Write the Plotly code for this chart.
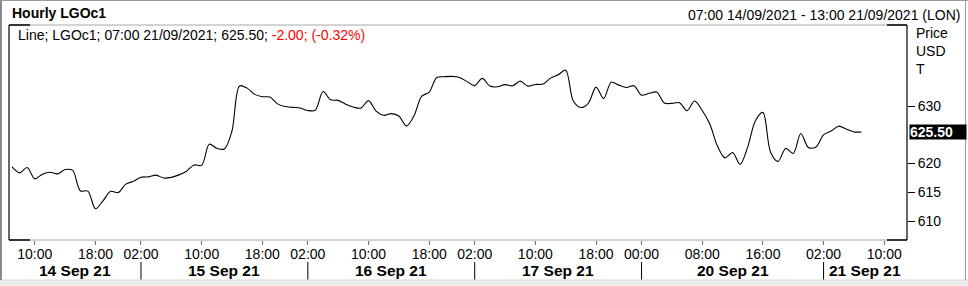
import plotly.graph_objects as go

# ---------------- data ----------------
prices = [
    619.42, 618.38, 619.30, 617.34, 618.15, 618.48, 618.20, 618.95, 618.81, 615.26,
    615.20, 612.13, 613.52, 615.17, 614.94, 616.42, 616.90, 617.63, 617.68, 617.98,
    617.48, 617.60, 618.03, 618.66, 619.75, 619.68, 623.36, 622.66, 622.54, 625.66,
    633.50, 633.12, 632.03, 631.63, 631.56, 630.38, 629.91, 629.77, 629.65, 629.22,
    629.30, 632.52, 631.09, 630.99, 630.31, 629.83, 629.65, 630.95, 629.13, 628.39,
    628.68, 628.27, 626.53, 628.33, 631.68, 632.43, 634.96, 635.10, 635.17, 634.98,
    634.25, 633.56, 634.81, 633.47, 633.35, 633.73, 633.52, 634.34, 633.47, 633.76,
    633.82, 634.86, 635.43, 636.24, 630.87, 629.74, 630.52, 633.30, 631.30, 634.16,
    633.64, 633.24, 633.54, 631.90, 632.22, 632.43, 630.52, 630.47, 630.57, 629.20,
    630.87, 629.22, 626.88, 623.06, 620.98, 621.93, 619.85, 622.89, 627.40, 628.90,
    622.02, 620.37, 622.63, 621.76, 625.23, 622.80, 622.89, 624.97, 625.66, 626.50,
    626.00, 625.49, 625.50,
]
bar_index = list(range(len(prices)))          # hourly bars (trading hours only)

hour_tick_index = [3, 11, 17, 25, 33, 39, 47, 55, 61, 69, 77, 83, 91, 99, 107, 115]
hour_tick_labels = ["10:00", "18:00", "02:00", "10:00", "18:00", "02:00", "10:00", "18:00",
                    "02:00", "10:00", "18:00", "00:00", "08:00", "16:00", "02:00", "10:00"]

day_separator_index = [17, 39, 61, 83, 107]
day_labels = ["14 Sep 21", "15 Sep 21", "16 Sep 21", "17 Sep 21", "20 Sep 21", "21 Sep 21"]

price_ticks = [610, 615, 620, 630]
last_price = 625.50

title_text = "Hourly LGOc1"
range_text = "07:00 14/09/2021 - 13:00 21/09/2021 (LON)"
legend_black = "Line; LGOc1; 07:00 21/09/2021; 625.50; "
legend_red = "-2.00; (-0.32%)"
unit_labels = ["Price", "USD", "T"]

# ---------------- layout geometry ----------------
W, H = 968, 286
L, R, T, B = 9, 907, 25, 240          # plot area in pixels
X_RANGE = [-0.4, 118]
Y_RANGE = [606.7, 644.1]
FONT = "Liberation Sans, Arial, sans-serif"


def px_x(p):
    return (p - L) / (R - L)


def px_y(p):
    return (B - p) / (B - T)


fig = go.Figure()
fig.add_trace(go.Scatter(
    x=bar_index, y=prices, mode="lines",
    line=dict(color="black", width=1.1, shape="spline", smoothing=0.9),
    hoverinfo="skip", showlegend=False,
))

shapes = []
# frame: gray horizontals, black verticals, black corner segments
for yy in (T, B):
    shapes.append(dict(type="line", xref="paper", yref="paper", x0=0, x1=1,
                       y0=px_y(yy), y1=px_y(yy), line=dict(color="#a8a8a8", width=1)))
    shapes.append(dict(type="line", xref="paper", yref="paper", x0=0, x1=px_x(L + 21),
                       y0=px_y(yy), y1=px_y(yy), line=dict(color="black", width=1.5)))
    shapes.append(dict(type="line", xref="paper", yref="paper", x0=px_x(R - 20), x1=1,
                       y0=px_y(yy), y1=px_y(yy), line=dict(color="black", width=1.5)))
for xx in (L, R):
    shapes.append(dict(type="line", xref="paper", yref="paper", x0=px_x(xx), x1=px_x(xx),
                       y0=0, y1=1, line=dict(color="black", width=1.2)))
# day separators
for s in day_separator_index:
    shapes.append(dict(type="line", xref="x", yref="paper", x0=s, x1=s,
                       y0=px_y(262), y1=px_y(280), line=dict(color="black", width=1)))
# window border / bottom strip
shapes.append(dict(type="rect", xref="paper", yref="paper", x0=px_x(0), x1=px_x(W),
                   y0=px_y(280), y1=px_y(H + 2), fillcolor="#ececec", line=dict(width=0),
                   layer="below"))
shapes.append(dict(type="line", xref="paper", yref="paper", x0=px_x(0), x1=px_x(W),
                   y0=px_y(280), y1=px_y(280), line=dict(color="#d8d8d8", width=1)))
shapes.append(dict(type="line", xref="paper", yref="paper", x0=px_x(1), x1=px_x(1),
                   y0=px_y(0), y1=px_y(280), line=dict(color="#8a8a8a", width=2)))
shapes.append(dict(type="line", xref="paper", yref="paper", x0=px_x(965.5), x1=px_x(965.5),
                   y0=px_y(0), y1=px_y(280), line=dict(color="#9a9a9a", width=1)))
shapes.append(dict(type="line", xref="paper", yref="paper", x0=px_x(0), x1=px_x(W),
                   y0=px_y(0.5), y1=px_y(0.5), line=dict(color="#9a9a9a", width=1)))

annotations = []
annotations.append(dict(text="<b>%s</b>" % title_text, xref="paper", yref="paper",
                        x=px_x(10), y=px_y(13), xanchor="left", yanchor="middle",
                        showarrow=False, font=dict(family=FONT, size=14, color="black")))
annotations.append(dict(text=range_text, xref="paper", yref="paper",
                        x=px_x(962), y=px_y(15), xanchor="right", yanchor="middle",
                        showarrow=False, font=dict(family=FONT, size=14, color="black")))
annotations.append(dict(text=legend_black + "<span style='color:#ff0000'>%s</span>" % legend_red,
                        xref="paper", yref="paper", x=px_x(16), y=px_y(35),
                        xanchor="left", yanchor="middle", showarrow=False,
                        font=dict(family=FONT, size=14, color="black")))
for k, t in enumerate(unit_labels):
    annotations.append(dict(text=t, xref="paper", yref="paper", x=px_x(914),
                            y=px_y(33 + 18 * k), xanchor="left", yanchor="middle",
                            showarrow=False, font=dict(family=FONT, size=14, color="black")))
annotations.append(dict(text="<b>%.2f</b>" % last_price, xref="paper", yref="y",
                        x=px_x(909), y=last_price, xanchor="left", yanchor="middle",
                        showarrow=False, bgcolor="black", borderpad=0, width=56, height=14,
                        align="left", font=dict(family=FONT, size=14, color="white")))
bounds = [X_RANGE[0]] + day_separator_index + [X_RANGE[1]]
for k, lab in enumerate(day_labels):
    mid = (bounds[k] + bounds[k + 1]) / 2
    annotations.append(dict(text="<b>%s</b>" % lab, xref="x", yref="paper", x=mid,
                            y=px_y(270.5), xanchor="center", yanchor="middle", showarrow=False,
                            font=dict(family=FONT, size=15.5, color="black")))

fig.update_layout(
    width=W, height=H,
    margin=dict(l=L, r=W - R, t=T, b=H - B, pad=0),
    paper_bgcolor="white", plot_bgcolor="white",
    showlegend=False,
    font=dict(family=FONT, size=14, color="black"),
    xaxis=dict(range=X_RANGE, tickmode="array", tickvals=hour_tick_index,
               ticktext=hour_tick_labels, ticks="outside", ticklen=4, tickcolor="#707070",
               ticklabelstandoff=-3,
               showgrid=False, zeroline=False, showline=False,
               tickfont=dict(family=FONT, size=14, color="black")),
    yaxis=dict(range=Y_RANGE, side="right", tickmode="array", tickvals=price_ticks,
               ticks="outside", ticklen=7, tickcolor="black", showgrid=False,
               zeroline=False, showline=False,
               tickfont=dict(family=FONT, size=14, color="black")),
    shapes=shapes, annotations=annotations,
)

fig.write_html("out.html")
